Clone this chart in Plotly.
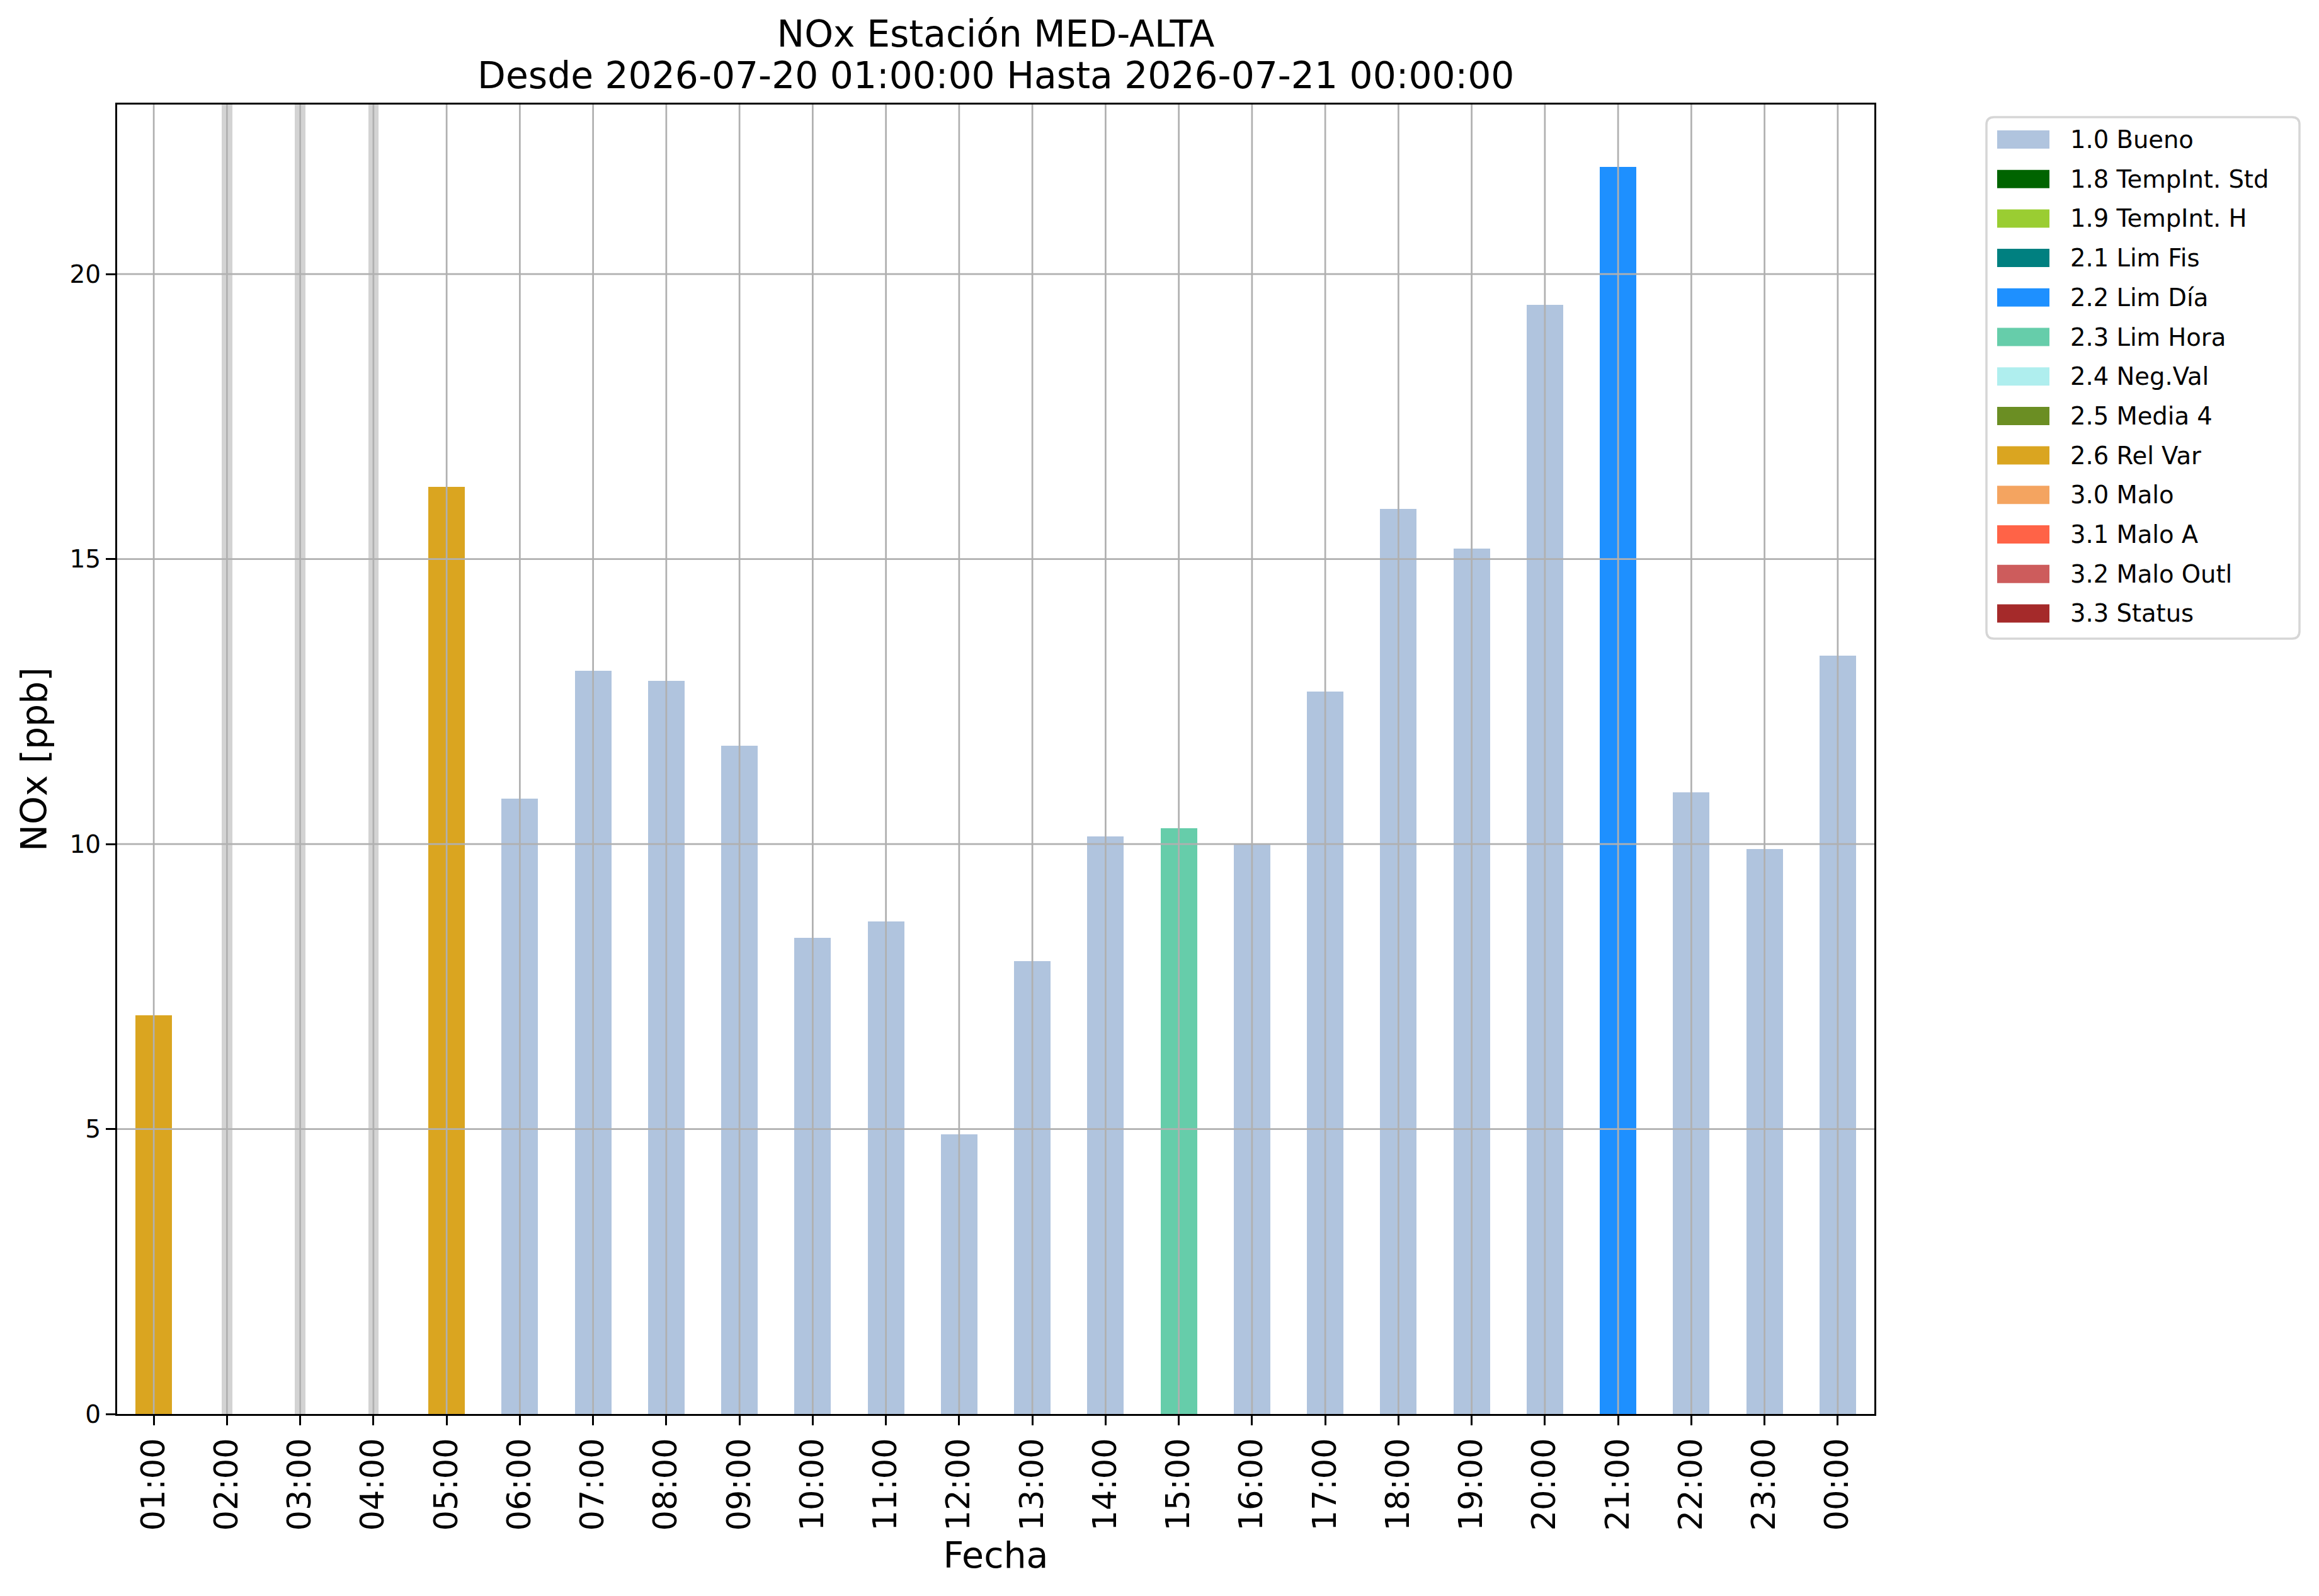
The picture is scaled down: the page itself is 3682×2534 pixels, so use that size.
import plotly.graph_objects as go

# ---------------- data ----------------
hours = ["01:00", "02:00", "03:00", "04:00", "05:00", "06:00", "07:00", "08:00",
         "09:00", "10:00", "11:00", "12:00", "13:00", "14:00", "15:00", "16:00",
         "17:00", "18:00", "19:00", "20:00", "21:00", "22:00", "23:00", "00:00"]

nox_values = [7.00, None, None, None, 16.27, 10.80, 13.04, 12.86,
              11.73, 8.35, 8.64, 4.91, 7.94, 10.13, 10.28, 9.99,
              12.68, 15.88, 15.18, 19.46, 21.88, 10.91, 9.91, 13.31]

flags = ["2.6 Rel Var", None, None, None, "2.6 Rel Var", "1.0 Bueno", "1.0 Bueno", "1.0 Bueno",
         "1.0 Bueno", "1.0 Bueno", "1.0 Bueno", "1.0 Bueno", "1.0 Bueno", "1.0 Bueno", "2.3 Lim Hora", "1.0 Bueno",
         "1.0 Bueno", "1.0 Bueno", "1.0 Bueno", "1.0 Bueno", "2.2 Lim Día", "1.0 Bueno", "1.0 Bueno", "1.0 Bueno"]

flag_names = ["1.0 Bueno", "1.8 TempInt. Std", "1.9 TempInt. H", "2.1 Lim Fis", "2.2 Lim Día",
              "2.3 Lim Hora", "2.4 Neg.Val", "2.5 Media 4", "2.6 Rel Var", "3.0 Malo",
              "3.1 Malo A", "3.2 Malo Outl", "3.3 Status"]
flag_colors = ["#B0C4DE", "#006400", "#9ACD32", "#008080", "#1E90FF",
               "#66CDAA", "#AFEEEE", "#6B8E23", "#DAA520", "#F4A460",
               "#FF6347", "#CD5C5C", "#A52A2A"]

y_ticks = [0, 5, 10, 15, 20]

title_line1 = "NOx Estación MED-ALTA"
title_line2 = "Desde 2026-07-20 01:00:00 Hasta 2026-07-21 00:00:00"

# ---------------- figure ----------------
FONT = "DejaVu Sans"
W, H = 3682, 2534
OFF = 8  # page body margin of the browser; positions below are in screenshot pixels
# plot area in screenshot pixels: left 186, right 2976, top 166, bottom 2245
ML, MT = 186 - OFF, 166 - OFF
MR, MB = W - (2976 - OFF), H - (2245 - OFF)
PW, PH = W - ML - MR, H - MT - MB


def px_x(px):  # screenshot pixel column -> paper x
    return (px - OFF - ML) / PW


def px_y(py):  # screenshot pixel row -> paper y
    return (H - MB - (py - OFF)) / PH


ymax = max(v for v in nox_values if v is not None) * 1.05

fig = go.Figure()

# missing-data markers (full-height light gray bars)
missing_y = [ymax if v is None else None for v in nox_values]
fig.add_trace(go.Bar(x=hours, y=missing_y, width=0.14,
                     marker=dict(color="#D3D3D3", line=dict(width=0)),
                     showlegend=False, hoverinfo="skip"))

for name, color in zip(flag_names, flag_colors):
    ys = [v if f == name else None for v, f in zip(nox_values, flags)]
    fig.add_trace(go.Bar(x=hours, y=ys, name=name, width=0.5, showlegend=False,
                         marker=dict(color=color, line=dict(width=0))))

# grid lines drawn above the bars (as in the reference)
grid_color = "#B0B0B0"
for h in hours:
    fig.add_shape(type="line", xref="x", yref="paper", x0=h, x1=h, y0=0, y1=1,
                  line=dict(color=grid_color, width=2.7), layer="above")
for t in y_ticks[1:]:
    fig.add_shape(type="line", xref="paper", yref="y", x0=0, x1=1, y0=t, y1=t,
                  line=dict(color=grid_color, width=2.7), layer="above")

# ---------------- legend (matplotlib-style box) ----------------
LX0, LY0, LX1, LY1 = 3154, 186, 3651, 1014
R = 12
rx, ry = R / PW, R / PH
x0, x1, y0, y1 = px_x(LX0), px_x(LX1), px_y(LY1), px_y(LY0)
path = (f"M{x0 + rx},{y1} L{x1 - rx},{y1} Q{x1},{y1} {x1},{y1 - ry} "
        f"L{x1},{y0 + ry} Q{x1},{y0} {x1 - rx},{y0} L{x0 + rx},{y0} "
        f"Q{x0},{y0} {x0},{y0 + ry} L{x0},{y1 - ry} Q{x0},{y1} {x0 + rx},{y1} Z")
fig.add_shape(type="path", xref="paper", yref="paper", path=path,
              line=dict(color="#D6D6D6", width=3.5), fillcolor="white", layer="above")

ROW0, ROWSTEP = 221.5, 62.7
SW_X0, SW_X1, SW_H = 3171, 3254, 29
TEXT_X = 3286
for i, (name, color) in enumerate(zip(flag_names, flag_colors)):
    cy = ROW0 + i * ROWSTEP
    fig.add_shape(type="rect", xref="paper", yref="paper",
                  x0=px_x(SW_X0), x1=px_x(SW_X1),
                  y0=px_y(cy + SW_H / 2), y1=px_y(cy - SW_H / 2),
                  line=dict(width=0), fillcolor=color, layer="above")
    fig.add_annotation(text=name, xref="paper", yref="paper",
                       x=px_x(TEXT_X), y=px_y(cy), xanchor="left", yanchor="middle",
                       showarrow=False, borderpad=0,
                       font=dict(family=FONT, size=38.5, color="black"))

# second title line
fig.add_annotation(text=title_line2, xref="paper", yref="paper",
                   x=0.5, y=px_y(120), xanchor="center", yanchor="middle",
                   showarrow=False, borderpad=0,
                   font=dict(family=FONT, size=58.3, color="black"))

fig.update_layout(
    width=W, height=H,
    margin=dict(l=ML, r=MR, t=MT, b=MB),
    paper_bgcolor="white", plot_bgcolor="white",
    barmode="overlay",
    showlegend=False,
    font=dict(family=FONT, color="black"),
    title=dict(text=title_line1, x=0.5, xref="paper", xanchor="center",
               y=1 - (54 - OFF) / H, yref="container", yanchor="middle",
               font=dict(family=FONT, size=58.3, color="black")),
    bargap=0,
)

fig.update_xaxes(type="category", categoryorder="array", categoryarray=hours,
                 range=[-0.5, len(hours) - 0.5],
                 showgrid=False, zeroline=False,
                 showline=True, mirror=True, linecolor="black", linewidth=3,
                 ticks="outside", ticklen=15, tickwidth=3, tickcolor="black",
                 tickangle=-90, tickfont=dict(family=FONT, size=51, color="black"),
                 title=dict(text="Fecha", font=dict(family=FONT, size=57, color="black"),
                            standoff=20))

fig.update_yaxes(range=[0, ymax], tickvals=y_ticks,
                 showgrid=False, zeroline=False,
                 showline=True, mirror=True, linecolor="black", linewidth=3,
                 ticks="outside", ticklen=15, tickwidth=3, tickcolor="black",
                 tickfont=dict(family=FONT, size=39, color="black"),
                 title=dict(text="NOx [ppb]", font=dict(family=FONT, size=57, color="black"),
                            standoff=18))

fig.write_html("out.html")
